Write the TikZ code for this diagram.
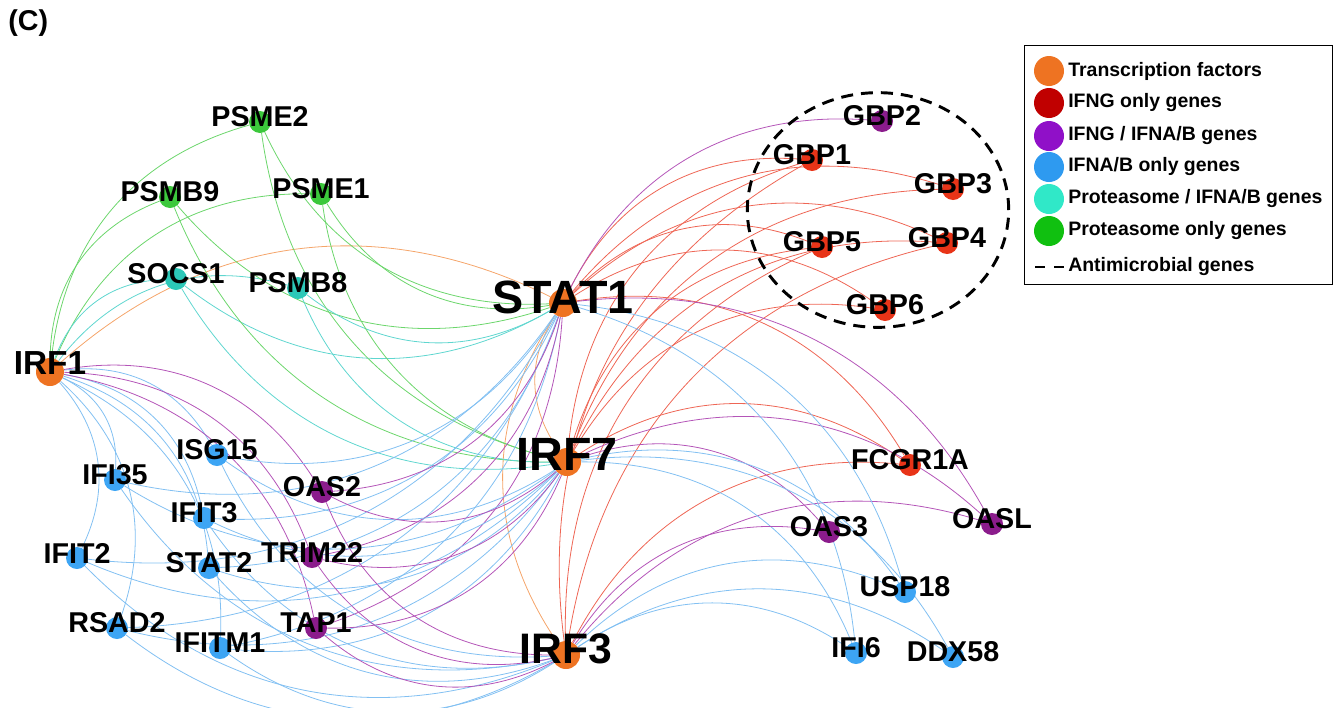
\documentclass[tikz,border=0pt]{standalone}
\usepackage{fontspec}
\setmainfont{Liberation Sans}
\usetikzlibrary{backgrounds,shapes.geometric}

% node fills
\definecolor{ctf}{HTML}{EE7322}
\definecolor{cred}{HTML}{E83418}
\definecolor{cpur}{HTML}{8B1C8C}
\definecolor{cblue}{HTML}{3DA5F4}
\definecolor{cteal}{HTML}{2CC8B8}
\definecolor{cgreen}{HTML}{3CC83C}
% legend fills
\definecolor{lred}{HTML}{C00000}
\definecolor{lpur}{HTML}{9010C8}
\definecolor{lblue}{HTML}{2E9AF0}
\definecolor{lteal}{HTML}{30E8C8}
\definecolor{lgreen}{HTML}{10C010}
% edge strokes
\definecolor{eorange}{HTML}{F5A56A}
\definecolor{ered}{HTML}{EE6655}
\definecolor{epur}{HTML}{B455B8}
\definecolor{eblue}{HTML}{82C0F2}
\definecolor{eteal}{HTML}{5FD6CF}
\definecolor{egreen}{HTML}{6CD66C}

\newcommand{\gnode}[4]{%
  \node[gdot,fill=#3] (#1) at (#2) {};
  \node[glab] (#1-t) at ([yshift=3.75pt]#1.center) {#4};}
% name, position, font size, label lift, text
\newcommand{\tfnode}[5]{%
  \node[tfdot] (#1) at (#2) {};
  \node[inner sep=0pt,font=\bfseries\fontsize{#3}{#3}\selectfont] (#1-t) at ([yshift=#4]#1.center) {#5};}

\begin{document}
\begin{tikzpicture}[x=0.75pt,y=-0.75pt,
  gdot/.style={circle,draw=none,inner sep=0pt,minimum size=16.5pt},
  tfdot/.style={circle,draw=none,fill=ctf,inner sep=0pt,minimum size=21pt},
  glab/.style={inner sep=0pt,font=\bfseries\fontsize{21.5}{24}\selectfont},
  legtxt/.style={anchor=west,inner sep=0pt,font=\bfseries\fontsize{14.6}{17}\selectfont},
  legdot/.style={circle,draw=none,inner sep=0pt,minimum size=22.5pt},
  edge/.style={line width=0.6pt},
  bnd/.style={bend left=34}]
\useasboundingbox (0,0) rectangle (1341,707);

% transcription factors
\tfnode{irf1}{50,372}{25}{6.5pt}{IRF1}
\tfnode{stat1}{563,303}{35}{4pt}{STAT1}
\tfnode{irf7}{567,462}{35}{5.5pt}{IRF7}
\tfnode{irf3}{566,655}{32}{4.5pt}{IRF3}

% proteasome genes
\gnode{psme2}{260,122}{cgreen}{PSME2}
\gnode{psmb9}{170,197}{cgreen}{PSMB9}
\gnode{psme1}{321,194}{cgreen}{PSME1}
\gnode{socs1}{176,279}{cteal}{SOCS1}
\gnode{psmb8}{298,288}{cteal}{PSMB8}

% interferon-stimulated genes, left group
\gnode{isg15}{217,455}{cblue}{ISG15}
\gnode{ifi35}{115,480}{cblue}{IFI35}
\gnode{oas2}{322,492}{cpur}{OAS2}
\gnode{ifit3}{204,518}{cblue}{IFIT3}
\gnode{ifit2}{77,558}{cblue}{IFIT2}
\gnode{stat2}{209,568}{cblue}{STAT2}
\gnode{trim22}{312,557}{cpur}{TRIM22}
\gnode{rsad2}{117,628}{cblue}{RSAD2}
\gnode{ifitm1}{220,648}{cblue}{IFITM1}
\gnode{tap1}{316,628}{cpur}{TAP1}

% guanylate-binding proteins
\gnode{gbp2}{882,121}{cpur}{GBP2}
\gnode{gbp1}{812,160}{cred}{GBP1}
\gnode{gbp3}{953,189}{cred}{GBP3}
\gnode{gbp5}{822,247}{cred}{GBP5}
\gnode{gbp4}{947,243}{cred}{GBP4}
\gnode{gbp6}{885,310}{cred}{GBP6}

% right group
\gnode{fcgr1a}{910,465}{cred}{FCGR1A}
\gnode{oasl}{992,524}{cpur}{OASL}
\gnode{oas3}{829,532}{cpur}{OAS3}
\gnode{usp18}{905,592}{cblue}{USP18}
\gnode{ifi6}{856,653}{cblue}{IFI6}
\gnode{ddx58}{953,657}{cblue}{DDX58}

% antimicrobial cluster
\node[draw,line width=2.2pt,dash pattern=on 9pt off 6pt,ellipse,
      minimum width=196pt,minimum height=176pt,inner sep=0pt] (amc) at (878,210) {};

\begin{pgfonlayer}{background}
  % transcription factor links
  \draw[edge,eorange] (irf1) to[bnd] (stat1);
  \draw[edge,eorange] (irf7) to[bnd] (stat1);
  \draw[edge,eorange] (irf3) to[bnd] (stat1);
  % proteasome
  \foreach \t in {irf1,stat1,irf7}{
    \foreach \g in {psme2,psmb9,psme1} \draw[edge,egreen] (\t) to[bnd] (\g);
    \foreach \g in {socs1,psmb8} \draw[edge,eteal] (\t) to[bnd] (\g);
  }
  % left group
  \foreach \t in {irf1,stat1,irf7,irf3}{
    \foreach \g in {isg15,ifi35,ifit3,ifit2,stat2,rsad2,ifitm1} \draw[edge,eblue] (\t) to[bnd] (\g);
    \foreach \g in {oas2,trim22,tap1} \draw[edge,epur] (\t) to[bnd] (\g);
  }
  % GBP family
  \foreach \g in {gbp1,gbp3,gbp4,gbp5,gbp6} \draw[edge,ered] (stat1) to[bnd] (\g);
  \foreach \g in {gbp1,gbp3,gbp4,gbp5,gbp6} \draw[edge,ered] (irf7) to[bnd] (\g);
  \foreach \g in {gbp1,gbp4,gbp5} \draw[edge,ered] (irf3) to[bnd] (\g);
  \draw[edge,epur] (stat1) to[bnd] (gbp2);
  % right group
  \foreach \t in {stat1,irf7,irf3}{
    \draw[edge,ered] (\t) to[bnd] (fcgr1a);
    \draw[edge,epur] (\t) to[bnd] (oasl);
  }
  \foreach \t in {irf7,irf3}{
    \draw[edge,epur] (\t) to[bnd] (oas3);
    \foreach \g in {usp18,ifi6,ddx58} \draw[edge,eblue] (\t) to[bnd] (\g);
  }
  \foreach \g in {usp18,ifi6} \draw[edge,eblue] (stat1) to[bnd] (\g);
\end{pgfonlayer}

% panel tag
\node[anchor=west,inner sep=0pt,font=\bfseries\fontsize{21.5}{24}\selectfont] (tag) at (8,23) {(C)};

% legend
\node[draw,line width=1pt,minimum width=231pt,minimum height=179pt,inner sep=0pt,anchor=north west] (leg) at (1024,45) {};
\node[legdot,fill=ctf]    (l1) at (1049,71)  {}; \node[legtxt] (l1-t) at (1068,71)  {Transcription factors};
\node[legdot,fill=lred]   (l2) at (1049,103) {}; \node[legtxt] (l2-t) at (1068,103) {IFNG only genes};
\node[legdot,fill=lpur]   (l3) at (1049,136) {}; \node[legtxt] (l3-t) at (1068,136) {IFNG / IFNA/B genes};
\node[legdot,fill=lblue]  (l4) at (1049,167) {}; \node[legtxt] (l4-t) at (1068,167) {IFNA/B only genes};
\node[legdot,fill=lteal]  (l5) at (1049,199) {}; \node[legtxt] (l5-t) at (1068,199) {Proteasome / IFNA/B genes};
\node[legdot,fill=lgreen] (l6) at (1049,231) {}; \node[legtxt] (l6-t) at (1068,231) {Proteasome only genes};
\coordinate (l7) at (1035,267);
\node[legtxt] (l7-t) at (1068,267) {Antimicrobial genes};
\draw[line width=2.2pt,dash pattern=on 7.5pt off 7pt] (l7) -- (l7-t.west);
\end{tikzpicture}
\end{document}
